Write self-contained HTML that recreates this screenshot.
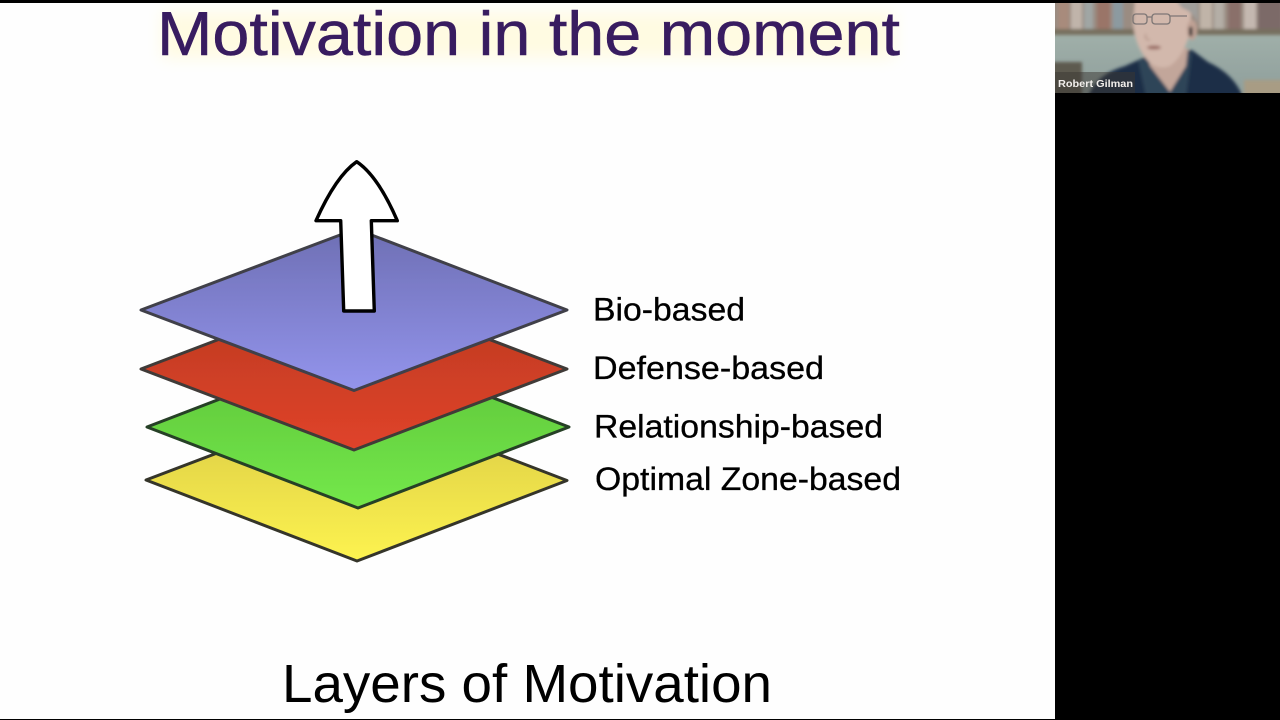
<!DOCTYPE html>
<html lang="en">
<head>
<meta charset="utf-8">
<title>Motivation in the moment</title>
<style>
html,body{margin:0;padding:0;width:1280px;height:720px;overflow:hidden;background:#000}
svg{display:block}
text{font-family:"Liberation Sans",sans-serif}
</style>
</head>
<body>
<svg width="1280" height="720" viewBox="0 0 1280 720" xmlns="http://www.w3.org/2000/svg">
<defs>
<linearGradient id="b" x1="0" y1="0" x2="0" y2="1"><stop offset="0" stop-color="#6e6fb4"/><stop offset="1" stop-color="#9394ec"/></linearGradient>
<linearGradient id="r" x1="0" y1="0" x2="0" y2="1"><stop offset="0" stop-color="#b93a20"/><stop offset="1" stop-color="#e0432a"/></linearGradient>
<linearGradient id="g" x1="0" y1="0" x2="0" y2="1"><stop offset="0" stop-color="#5cc23a"/><stop offset="1" stop-color="#74e84a"/></linearGradient>
<linearGradient id="y" x1="0" y1="0" x2="0" y2="1"><stop offset="0" stop-color="#d8c845"/><stop offset="1" stop-color="#fdf350"/></linearGradient>
<linearGradient id="wall" x1="0" y1="0" x2="0" y2="1"><stop offset="0" stop-color="#a9b8b0"/><stop offset="1" stop-color="#8f9f9c"/></linearGradient>
<filter id="s1" x="-5%" y="-5%" width="110%" height="110%"><feGaussianBlur stdDeviation="1.5"/></filter>
<filter id="s2" x="-10%" y="-100%" width="120%" height="300%"><feGaussianBlur stdDeviation="8"/></filter>
<filter id="s3"><feGaussianBlur stdDeviation="0.35"/></filter>
<clipPath id="cam"><rect x="1055" y="3" width="225" height="90"/></clipPath>
<clipPath id="slide"><rect x="0" y="3" width="1055" height="716"/></clipPath>
</defs>

<rect width="1280" height="720" fill="#000"/>
<rect x="0" y="3" width="1055" height="716" fill="#fefefe"/>

<!-- title glow -->
<g clip-path="url(#slide)">
<rect x="162" y="12" width="732" height="46" fill="#fffbe2" filter="url(#s2)"/>
</g>

<text x="157" y="55" font-size="62" fill="#381c60" stroke="#381c60" stroke-width="0.5" textLength="743" lengthAdjust="spacingAndGlyphs">Motivation in the moment</text>

<!-- layers -->
<g stroke-width="3" stroke-linejoin="round" filter="url(#s3)">
<polygon points="146,480 357,400 567,480.5 357,561" fill="url(#y)" stroke="#35352a"/>
<polygon points="147,427 358,346 569,427 358,508" fill="url(#g)" stroke="#283f26"/>
<polygon points="141,369 354,288 567,369 354,450" fill="url(#r)" stroke="#403a38"/>
<polygon points="141,310 356,229 567,310 354,390.5" fill="url(#b)" stroke="#404048"/>
<path d="M356.7,161.7 Q336,176 316,220.7 H340.7 L343.7,311 H374.3 L371.3,220.7 H397.3 Q378,176 356.7,161.7 Z" fill="#fff" stroke="#000" stroke-width="3.4"/>
</g>

<!-- labels -->
<g fill="#000" font-size="32" stroke="#000" stroke-width="0.3">
<text x="593" y="320.5" textLength="152" lengthAdjust="spacingAndGlyphs">Bio-based</text>
<text x="593" y="379" textLength="231" lengthAdjust="spacingAndGlyphs">Defense-based</text>
<text x="594" y="437.5" textLength="289" lengthAdjust="spacingAndGlyphs">Relationship-based</text>
<text x="595" y="490" textLength="306" lengthAdjust="spacingAndGlyphs">Optimal Zone-based</text>
</g>

<text x="282" y="702" font-size="54" fill="#000" textLength="490" lengthAdjust="spacingAndGlyphs">Layers of Motivation</text>

<!-- webcam -->
<g clip-path="url(#cam)">
<rect x="1055" y="3" width="225" height="90" fill="url(#wall)"/>
<g filter="url(#s1)">
<rect x="1050" y="0" width="235" height="31" fill="#9a8c82"/>
<rect x="1058" y="0" width="11" height="29" fill="#a88b7c"/>
<rect x="1071" y="0" width="11" height="29" fill="#c0b4aa"/>
<rect x="1084" y="0" width="9" height="29" fill="#a0a6a4"/>
<rect x="1097" y="0" width="13" height="29" fill="#9a7468"/>
<rect x="1113" y="0" width="10" height="29" fill="#8c9aa0"/>
<rect x="1200" y="0" width="12" height="29" fill="#c0b4a8"/>
<rect x="1214" y="0" width="10" height="29" fill="#b4aea6"/>
<rect x="1228" y="0" width="13" height="29" fill="#8a706a"/>
<rect x="1244" y="0" width="12" height="29" fill="#c4b8b0"/>
<rect x="1258" y="0" width="24" height="29" fill="#7c6a68"/>
<rect x="1050" y="29" width="235" height="6" fill="#77705f"/>
<rect x="1050" y="62" width="32" height="35" fill="#5d5a50"/>
<rect x="1244" y="80" width="40" height="16" fill="#a89c84"/>
<!-- body -->
<path d="M1088,97 Q1096,74 1125,66 L1145,57 L1192,50 L1208,62 Q1234,74 1243,97 Z" fill="#1d2e46"/>
<path d="M1138,60 L1146,97 L1186,97 L1192,52 Z" fill="#2f4459"/>
<!-- neck -->
<path d="M1146,50 L1150,66 L1170,92 L1186,66 L1188,48 Z" fill="#c2a69a"/>
<!-- head -->
<path d="M1135,0 L1133,24 Q1136,50 1150,63 Q1160,70 1170,66 Q1184,56 1190,32 L1192,0 Z" fill="#d2b8ac"/>
<path d="M1176,0 H1198 V24 Q1194,12 1182,8 Z" fill="#a19f9b"/>
<ellipse cx="1192" cy="30" rx="5" ry="10" fill="#bfa194"/>
<rect x="1189" y="27" width="3.5" height="9" fill="#2b2b2b"/>
<ellipse cx="1154" cy="47.5" rx="7" ry="2" fill="#9a6c64"/>
<path d="M1146,34 Q1144,40 1150,40" fill="none" stroke="#b49488" stroke-width="1.5"/>
</g>
<g fill="none" stroke="#7d7674" stroke-width="1.3" filter="url(#s3)">
<rect x="1133" y="14" width="14" height="10" rx="3"/>
<rect x="1152" y="14" width="18" height="10" rx="3"/>
<path d="M1147,17 H1152 M1170,16 H1187"/>
</g>
<rect x="1055" y="72" width="80" height="21" fill="#3a3632" opacity="0.5"/>
</g>
<text x="1058" y="87" font-size="10.5" font-weight="700" fill="#f2efec" textLength="75" lengthAdjust="spacingAndGlyphs">Robert Gilman</text>
</svg>
</body>
</html>
